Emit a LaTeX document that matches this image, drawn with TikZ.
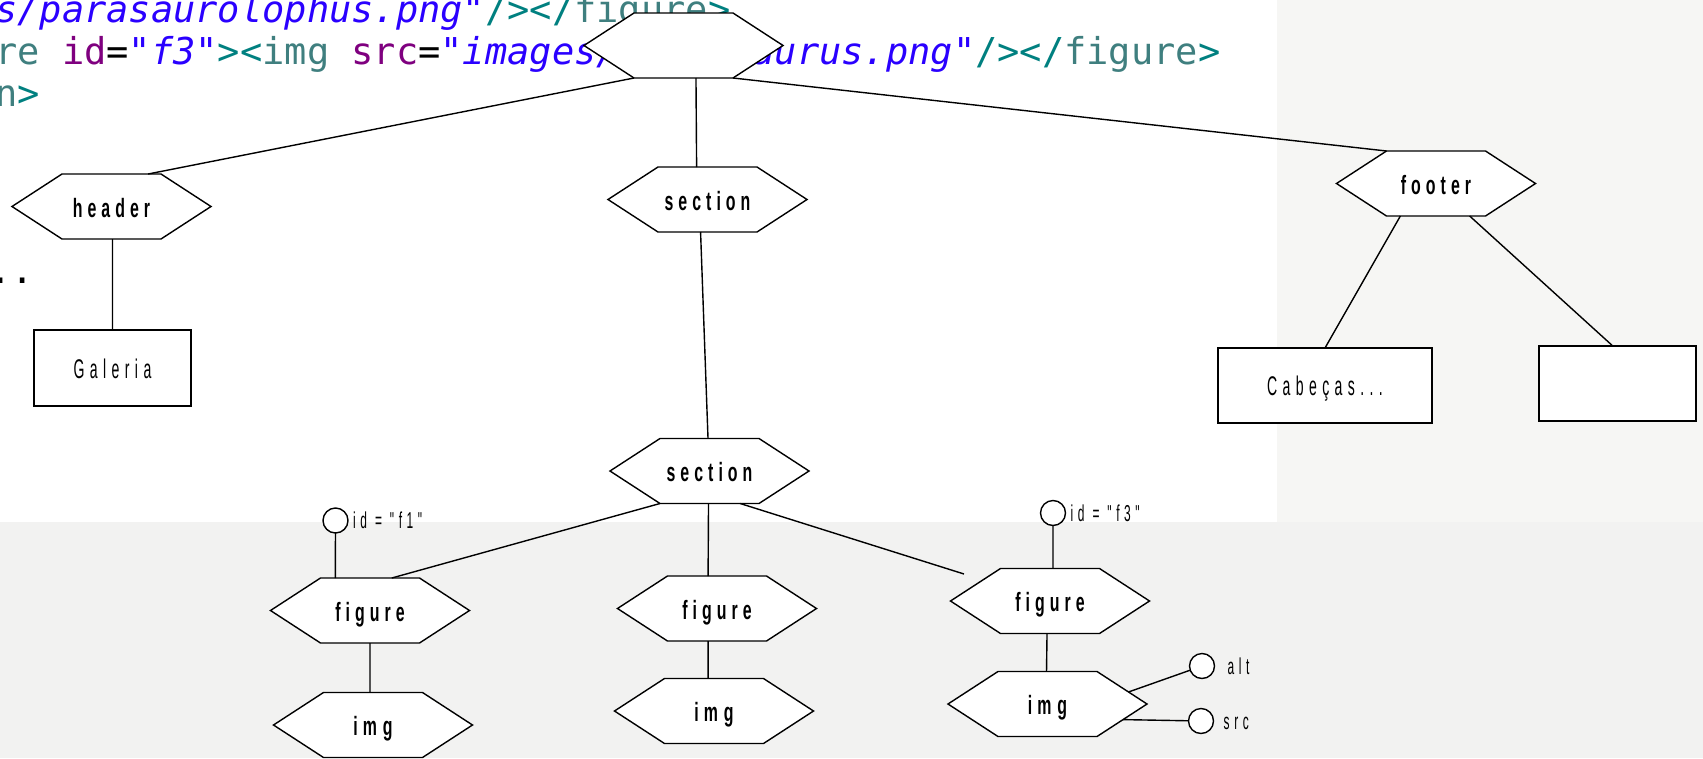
\documentclass[tikz,border=0pt]{standalone}
\usepackage{fontspec}
\usetikzlibrary{calc}

% label fonts: narrow, letter-spaced sans; code font: mono
\newfontfamily\lblfam[FakeStretch=0.6,LetterSpace=19]{Liberation Sans}
\newfontfamily\thinfam[FakeStretch=0.52,LetterSpace=20]{Liberation Sans}
\newfontfamily\codefam{DejaVu Sans Mono}
\newcommand\hexfont{\lblfam\bfseries\fontsize{26.5}{26.5}\selectfont}
\newcommand\boxfont{\thinfam\fontsize{27}{27}\selectfont}
\newcommand\attrfont{\thinfam\fontsize{23}{23}\selectfont}
\newcommand\codefnt{\codefam\fontsize{37}{42}\selectfont}

\definecolor{xtag}{HTML}{3F7F7F}
\definecolor{xbr}{HTML}{008080}
\definecolor{xattr}{HTML}{7F007F}
\definecolor{xval}{HTML}{2A00FF}
\definecolor{paneA}{HTML}{F6F6F4}
\definecolor{paneB}{HTML}{F2F2F1}

% elongated hexagon: rectangle geometry with the four corners cut off
\makeatletter
\def\hexcut{50pt}
\pgfdeclareshape{hexcell}{%
  \inheritsavedanchors[from=rectangle]%
  \inheritanchorborder[from=rectangle]%
  \inheritanchor[from=rectangle]{center}%
  \inheritanchor[from=rectangle]{north}%
  \inheritanchor[from=rectangle]{south}%
  \inheritanchor[from=rectangle]{east}%
  \inheritanchor[from=rectangle]{west}%
  \inheritanchor[from=rectangle]{north east}%
  \inheritanchor[from=rectangle]{north west}%
  \inheritanchor[from=rectangle]{south east}%
  \inheritanchor[from=rectangle]{south west}%
  \inheritanchor[from=rectangle]{base}%
  \inheritanchor[from=rectangle]{mid}%
  \anchor{tl}{\southwest\pgf@xa=\pgf@x\northeast\pgf@x=\pgf@xa\advance\pgf@x by\hexcut}%
  \anchor{tr}{\northeast\advance\pgf@x by-\hexcut}%
  \anchor{bl}{\southwest\advance\pgf@x by\hexcut}%
  \anchor{br}{\northeast\pgf@xa=\pgf@x\southwest\pgf@x=\pgf@xa\advance\pgf@x by-\hexcut}%
  \backgroundpath{%
    \southwest\edef\hx@l{\the\pgf@x}\edef\hx@b{\the\pgf@y}%
    \northeast\edef\hx@r{\the\pgf@x}\edef\hx@t{\the\pgf@y}%
    \pgf@x=\hx@l\advance\pgf@x by\hexcut\edef\hx@il{\the\pgf@x}%
    \pgf@x=\hx@r\advance\pgf@x by-\hexcut\edef\hx@ir{\the\pgf@x}%
    \pgf@y=\hx@b\advance\pgf@y by\hx@t\pgf@y=.5\pgf@y\edef\hx@m{\the\pgf@y}%
    \pgfpathmoveto{\pgfqpoint{\hx@l}{\hx@m}}%
    \pgfpathlineto{\pgfqpoint{\hx@il}{\hx@t}}%
    \pgfpathlineto{\pgfqpoint{\hx@ir}{\hx@t}}%
    \pgfpathlineto{\pgfqpoint{\hx@r}{\hx@m}}%
    \pgfpathlineto{\pgfqpoint{\hx@ir}{\hx@b}}%
    \pgfpathlineto{\pgfqpoint{\hx@il}{\hx@b}}%
    \pgfpathclose}%
}
\makeatother

\tikzset{
  wire/.style={line width=1.4pt, draw=black},
  hexnode/.style={shape=hexcell, draw, fill=white, line width=1.4pt, line join=miter,
    minimum width=199pt, minimum height=65pt, inner sep=0pt, outer sep=0pt,
    text height=21pt, text depth=0pt, font=\hexfont},
  boxnode/.style={rectangle, draw, fill=white, line width=1.4pt, inner sep=0pt,
    outer sep=0pt, text height=20pt, text depth=0pt, font=\boxfont},
  attrdot/.style={circle, draw, fill=white, line width=1.4pt, minimum size=25pt,
    inner sep=0pt, outer sep=0pt},
  attrlbl/.style={anchor=west, inner sep=0pt, text height=16.5pt, text depth=0pt,
    font=\attrfont},
  codeline/.style={anchor=base west, inner sep=0pt, font=\codefnt},
}

\begin{document}
\begin{tikzpicture}[x=1pt,y=-1pt]
\useasboundingbox (0,0) rectangle (1703,758);

% backdrop: editor pane and grey surroundings
\fill[paneB] (0,0) rectangle (1703,758);
\fill[paneA] (1277,0) rectangle (1703,522);
\fill[white] (0,0) rectangle (1277,522);

% source code behind the tree
\node[codeline] (code1) at (-5,22) {{\color{xval}\itshape s/parasaurolophus.png}{\color{xval}"}{\color{xbr}/></}{\color{xtag}figure}{\color{xbr}>}};
\node[codeline] (code2) at (-5,64) {{\color{xtag}re} {\color{xattr}id}={\color{xval}"{\itshape f3}"}{\color{xbr}><}{\color{xtag}img} {\color{xattr}src}={\color{xval}"{\itshape images/stegosaurus.png}"}{\color{xbr}/></}{\color{xtag}figure}{\color{xbr}>}};
\node[codeline] (code3) at (-5,106) {{\color{xtag}n}{\color{xbr}>}};
\node[codeline] (code4) at (-33,283) {...};

% element tree
\node[hexnode] (top)  at (683.5,45.5) {};
\node[hexnode] (hdr)  at (111.5,206.5) {header};
\node[hexnode] (sec1) at (707.5,199.5) {section};
\node[hexnode] (ftr)  at (1436,183.5) {footer};
\node[hexnode] (sec2) at (709.5,471) {section};
\node[hexnode] (fig1) at (370,610.5) {figure};
\node[hexnode] (fig2) at (717,608.5) {figure};
\node[hexnode] (fig3) at (1050,601) {figure};
\node[hexnode] (img1) at (373,725) {im\kern6pt g};
\node[hexnode] (img2) at (714,711) {im\kern6pt g};
\node[hexnode] (img3) at (1047.5,704) {im\kern6pt g};

% text content boxes
\node[boxnode, minimum width=157pt, minimum height=76pt] (gal) at (112.5,368) {Galeria};
\node[boxnode, minimum width=214pt, minimum height=75pt] (cab) at (1325,385.5) {Cabeças...};
\node[boxnode, minimum width=157pt, minimum height=75pt] (blank) at (1617.5,383.5) {};

% attributes
\node[attrdot] (idf1) at (335.5,520.5) {};
\node[attrdot] (idf3) at (1053,513) {};
\node[attrdot] (alt)  at (1202,666) {};
\node[attrdot] (src)  at (1201,721) {};
\node[attrlbl] (idf1t) at ([xshift=5pt]idf1.east) {id = "f1"};
\node[attrlbl] (idf3t) at ([xshift=5pt]idf3.east) {id = "f3"};
\node[attrlbl] (altt)  at ([xshift=13pt]alt.east) {alt};
\node[attrlbl] (srct)  at ([xshift=10pt]src.east) {src};

\coordinate (loose) at (964,574);

% connectors
\draw[wire] (top.bl) -- ($(hdr.tl)!0.87!(hdr.tr)$);
\draw[wire] ($(top.bl)!0.626!(top.br)$) -- ($(sec1.tl)!0.39!(sec1.tr)$);
\draw[wire] (top.br) -- (ftr.tl);
\draw[wire] ($(hdr.bl)!0.51!(hdr.br)$) -- (gal.north);
\draw[wire] ($(sec1.bl)!0.43!(sec1.br)$) -- ($(sec2.tl)!0.485!(sec2.tr)$);
\draw[wire] ($(ftr.bl)!0.14!(ftr.br)$) -- (cab.north);
\draw[wire] ($(ftr.bl)!0.84!(ftr.br)$) -- ($(blank.north west)!0.47!(blank.north east)$);
\draw[wire] (sec2.bl) -- ($(fig1.tl)!0.72!(fig1.tr)$);
\draw[wire] ($(sec2.bl)!0.49!(sec2.br)$) -- ($(fig2.tl)!0.41!(fig2.tr)$);
\draw[wire] ($(sec2.bl)!0.81!(sec2.br)$) -- (loose);
\draw[wire] (idf1) -- ($(fig1.tl)!0.15!(fig1.tr)$);
\draw[wire] ($(fig1.bl)!0.5!(fig1.br)$) -- ($(img1.tl)!0.47!(img1.tr)$);
\draw[wire] ($(fig2.bl)!0.41!(fig2.br)$) -- ($(img2.tl)!0.44!(img2.tr)$);
\draw[wire] (idf3) -- ($(fig3.tl)!0.53!(fig3.tr)$);
\draw[wire] ($(fig3.bl)!0.47!(fig3.br)$) -- ($(img3.tl)!0.49!(img3.tr)$);
\draw[wire] ($(img3.east)!0.37!(img3.tr)$) -- (alt);
\draw[wire] ($(img3.east)!0.48!(img3.br)$) -- (src);
\end{tikzpicture}
\end{document}
